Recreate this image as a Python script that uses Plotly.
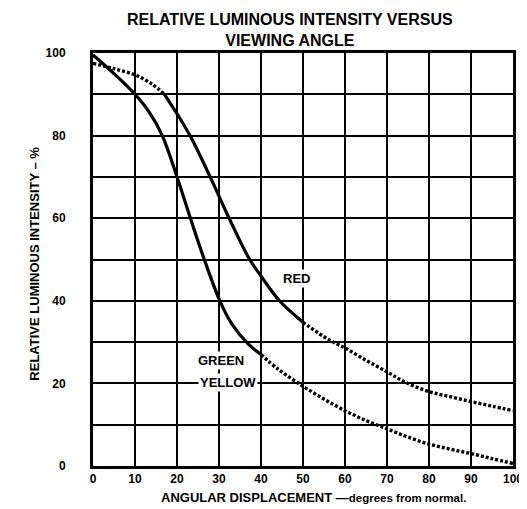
import plotly.graph_objects as go

# ---- data ----
angle_green = [0, 5, 10, 13.5, 16.5, 20, 23.2, 26.5, 30.2, 33, 37, 40, 44, 48.5, 50, 55, 60, 65, 70, 75, 80, 85, 90, 95, 100]
green_yellow = [99.5, 95, 90, 85.5, 80, 70, 60, 50, 40, 34.5, 29.5, 27, 23.5, 20.3, 19.3, 16.2, 13.4, 11, 9, 7, 5.3, 4.1, 3, 1.8, 0.6]

angle_red = [0, 5, 10, 14, 17, 20, 23.1, 27.9, 32.4, 37.3, 40, 44.4, 50, 55, 58, 60, 65, 70, 74.3, 80, 85, 90, 95, 100]
red = [97.5, 96.2, 94.7, 92.5, 90, 85.3, 80, 70, 60, 50, 46, 40, 34.8, 31.3, 29.6, 28.6, 25.6, 22.8, 20.3, 18, 16.8, 15.6, 14.5, 13.4]

# solid portion ranges (x) for each curve; outside these the curve is dotted
green_solid = (0, 40)
red_solid = (17, 50)

x_ticks = [0, 10, 20, 30, 40, 50, 60, 70, 80, 90, 100]
y_ticks = [0, 20, 40, 60, 80, 100]

FONT = "Liberation Sans, Arial, sans-serif"
NARROW = "Liberation Sans Narrow, Arial Narrow, sans-serif"
DOT = "3px,2px"


def segments(xs, ys, lo, hi):
    before = [(x, y) for x, y in zip(xs, ys) if x <= lo]
    mid = [(x, y) for x, y in zip(xs, ys) if lo <= x <= hi]
    after = [(x, y) for x, y in zip(xs, ys) if x >= hi]
    return before, mid, after


fig = go.Figure()

for xs, ys, (lo, hi) in [(angle_green, green_yellow, green_solid), (angle_red, red, red_solid)]:
    b, m, a = segments(xs, ys, lo, hi)
    for seg, dash in [(b, DOT), (m, "solid"), (a, DOT)]:
        if len(seg) < 2:
            continue
        fig.add_trace(go.Scatter(
            x=[p[0] for p in seg], y=[p[1] for p in seg], mode="lines",
            line=dict(color="black", width=3.2 if dash == "solid" else 3.4, dash=dash,
                      shape="spline", smoothing=1.0),
            showlegend=False, hoverinfo="skip"))

lab_font = dict(family=FONT, size=13, color="black")
fig.add_annotation(x=48.5, y=45.5, text="<b>RED</b>", showarrow=False,
                   font=lab_font, bgcolor="white", borderpad=1)
fig.add_annotation(x=30.5, y=25.6, text="<b>GREEN</b>", showarrow=False,
                   font=lab_font, bgcolor="white", borderpad=1)
fig.add_annotation(x=32.2, y=20.3, text="<b>YELLOW</b>", showarrow=False,
                   font=lab_font, bgcolor="white", borderpad=1)

fig.add_annotation(xref="paper", yref="paper", x=0.47, xanchor="center", y=1.0, yshift=23,
                   yanchor="middle", text="<b>RELATIVE LUMINOUS INTENSITY VERSUS<br>VIEWING ANGLE</b>",
                   showarrow=False, font=dict(family=FONT, size=16, color="black"), borderpad=0)
fig.add_annotation(xref="paper", yref="paper", x=0.524, xanchor="center", y=0, yshift=-31,
                   yanchor="middle",
                   text="<b>ANGULAR DISPLACEMENT —<span style='font-size:11.5px'>degrees from normal.</span></b>",
                   showarrow=False, font=dict(family=FONT, size=13, color="black"))
fig.add_annotation(xref="paper", yref="paper", x=0, xanchor="center", xshift=-58, y=0.49,
                   yanchor="middle", textangle=-90,
                   text="<b>RELATIVE LUMINOUS INTENSITY – %</b>", showarrow=False,
                   font=dict(family=NARROW, size=13, color="black"))

axis_common = dict(showgrid=True, gridcolor="black", gridwidth=2, zeroline=False,
                   showline=True, linecolor="black", linewidth=3, mirror=True,
                   ticks="", tickfont=dict(family=FONT, size=12, color="black", weight="bold"))

fig.update_xaxes(range=[0, 100], tickvals=x_ticks, **axis_common)
fig.update_yaxes(range=[0, 100], tickvals=y_ticks, ticklabelstandoff=22,
                 minor=dict(dtick=10, showgrid=True, gridcolor="black", gridwidth=2), **axis_common)

fig.update_layout(width=527, height=509, margin=dict(l=85, r=18, t=45, b=51),
                  plot_bgcolor="white", paper_bgcolor="white", showlegend=False)

fig.write_html("out.html")
